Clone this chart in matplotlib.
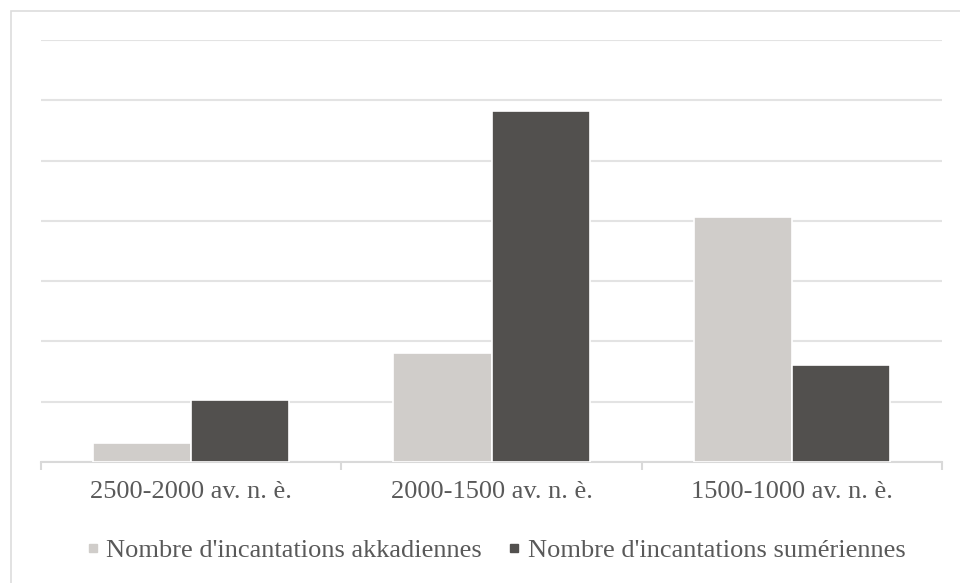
import matplotlib
matplotlib.use("Agg")
import matplotlib.pyplot as plt
import numpy as np
from matplotlib.patches import Rectangle
from matplotlib.lines import Line2D

# Données
periodes = ["2500-2000 av. n. è.", "2000-1500 av. n. è.", "1500-1000 av. n. è."]
akkadiennes = [3.1, 18.1, 40.6]
sumeriennes = [10.3, 58.3, 16.1]
noms_series = ["Nombre d'incantations akkadiennes", "Nombre d'incantations sumériennes"]

couleur_akk = "#D0CDCA"
couleur_sum = "#52504E"
gris_texte = "#595959"

plt.rcParams["font.family"] = ["Liberation Serif", "DejaVu Serif"]

fig = plt.figure(figsize=(9.6, 5.83), dpi=100)
ax = fig.add_axes([41/960, 1 - 462/583, (942 - 41)/960, (462 - 40)/583])

# cadre exterieur (coupe a droite et en bas)
fig.patches.append(Rectangle((11/960, -0.2), 1.5, 1.2 - 11/583, transform=fig.transFigure,
                             fill=False, edgecolor="#DDDDDD", linewidth=1.2, zorder=0))

x = np.arange(len(periodes))
largeur = 0.327
ax.bar(x - largeur/2, akkadiennes, largeur, color=couleur_akk, edgecolor="white", linewidth=1.2,
       zorder=3)
ax.bar(x + largeur/2, sumeriennes, largeur, color=couleur_sum, edgecolor="white", linewidth=1.2,
       zorder=3)

ax.set_xlim(-0.5, 2.5)
ax.set_ylim(0, 70)
ax.set_yticks(np.arange(0, 71, 10))
ax.yaxis.grid(True, color="#E3E3E3", linewidth=1.5, zorder=0)
ax.tick_params(axis="y", left=False, labelleft=False)

ax.set_xticks(x)
ax.set_xticklabels(periodes, fontsize=19, color=gris_texte)
ax.set_xticks([-0.5, 0.5, 1.5, 2.5], minor=True)
ax.tick_params(axis="x", which="major", length=0, pad=14)
ax.tick_params(axis="x", which="minor", length=6, color="#D9D9D9", width=1.5)

for s in ["top", "right", "left"]:
    ax.spines[s].set_visible(False)
ax.spines["bottom"].set_color("#D9D9D9")
ax.spines["bottom"].set_linewidth(1.5)

poignees = [Line2D([], [], marker="s", linestyle="", color=c, markersize=6)
            for c in [couleur_akk, couleur_sum]]
fig.legend(poignees, noms_series, loc="center", bbox_to_anchor=(497/960, 1 - 550/583), ncol=2,
           frameon=False, fontsize=19, labelcolor=gris_texte, handlelength=0.35,
           handletextpad=0.35, columnspacing=1.05)

fig.savefig("out.png", dpi=100)
